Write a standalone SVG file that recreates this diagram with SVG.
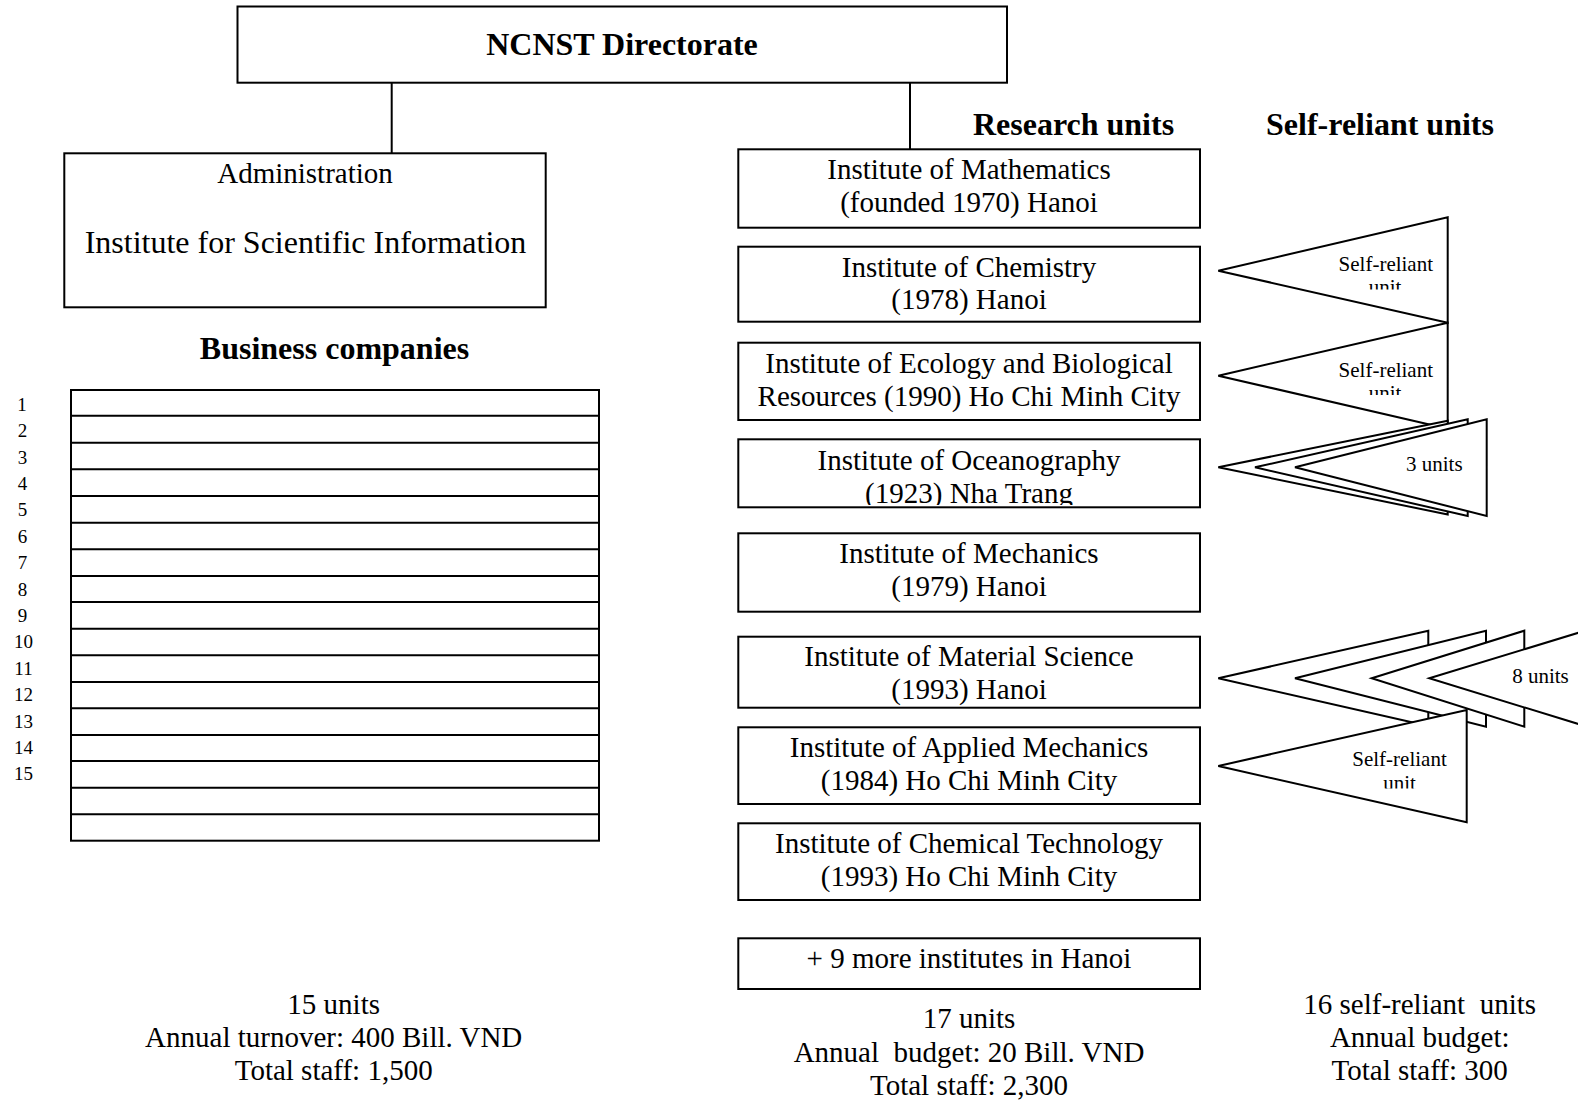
<svg xmlns="http://www.w3.org/2000/svg" width="1578" height="1104" viewBox="0 0 1578 1104">
<defs>
<style>
.box{fill:#fff;stroke:#000;stroke-width:2}
.tri{fill:#fff;stroke:#000;stroke-width:2;stroke-linejoin:miter}
.ln{stroke:#000;stroke-width:2;fill:none}
.t{font-family:"Liberation Serif","Times New Roman",serif;font-size:29px;fill:#000;text-anchor:middle;white-space:pre}
.h{font-family:"Liberation Serif","Times New Roman",serif;font-size:32px;font-weight:bold;fill:#000;text-anchor:middle}
.s{font-family:"Liberation Serif","Times New Roman",serif;font-size:21px;fill:#000;text-anchor:middle}
.n{font-family:"Liberation Serif","Times New Roman",serif;font-size:19px;fill:#000;text-anchor:middle}
</style>
<clipPath id="cOcean"><rect x="738" y="439" width="462" height="66"/></clipPath>
<clipPath id="cU1"><rect x="1200" y="200" width="300" height="89.5"/></clipPath>
<clipPath id="cU2"><rect x="1200" y="300" width="300" height="95"/></clipPath>
<clipPath id="cU3"><rect x="1200" y="700" width="300" height="88.5"/></clipPath>
</defs>
<rect width="1578" height="1104" fill="#fff"/>

<g id="connectors">
<line class="ln" x1="391.7" y1="82.7" x2="391.7" y2="153.3"/>
<line class="ln" x1="910" y1="82.7" x2="910" y2="149.3"/>
</g>

<g id="directorate">
<rect class="box" x="237.5" y="6.5" width="769.5" height="76.2"/>
<text class="h" x="622" y="55">NCNST Directorate</text>
</g>

<g id="administration">
<rect class="box" x="64.3" y="153.3" width="481.4" height="154"/>
<text class="t" x="305" y="182.7">Administration</text>
<text class="t" x="305.5" y="253.3" style="font-size:32px">Institute for Scientific Information</text>
</g>

<g id="headers">
<text class="h" x="334.5" y="358.5">Business companies</text>
<text class="h" x="1073.5" y="134.5">Research units</text>
<text class="h" x="1380" y="134.5">Self-reliant units</text>
</g>

<g id="business-companies">
<rect class="box" x="71" y="390" width="528" height="450.7"/>
<line class="ln" x1="71" y1="415.7" x2="599" y2="415.7"/>
<line class="ln" x1="71" y1="442.7" x2="599" y2="442.7"/>
<line class="ln" x1="71" y1="469.3" x2="599" y2="469.3"/>
<line class="ln" x1="71" y1="496" x2="599" y2="496"/>
<line class="ln" x1="71" y1="522.7" x2="599" y2="522.7"/>
<line class="ln" x1="71" y1="549.3" x2="599" y2="549.3"/>
<line class="ln" x1="71" y1="576" x2="599" y2="576"/>
<line class="ln" x1="71" y1="602" x2="599" y2="602"/>
<line class="ln" x1="71" y1="628.7" x2="599" y2="628.7"/>
<line class="ln" x1="71" y1="655.3" x2="599" y2="655.3"/>
<line class="ln" x1="71" y1="682" x2="599" y2="682"/>
<line class="ln" x1="71" y1="708.3" x2="599" y2="708.3"/>
<line class="ln" x1="71" y1="735" x2="599" y2="735"/>
<line class="ln" x1="71" y1="761" x2="599" y2="761"/>
<line class="ln" x1="71" y1="787.7" x2="599" y2="787.7"/>
<line class="ln" x1="71" y1="814.3" x2="599" y2="814.3"/>
<text class="n" x="22" y="410.7">1</text>
<text class="n" x="22.5" y="437.1">2</text>
<text class="n" x="22.5" y="463.5">3</text>
<text class="n" x="22.5" y="489.9">4</text>
<text class="n" x="22.5" y="516.3">5</text>
<text class="n" x="22.5" y="542.7">6</text>
<text class="n" x="22.5" y="569.1">7</text>
<text class="n" x="22.5" y="595.5">8</text>
<text class="n" x="22.5" y="621.9">9</text>
<text class="n" x="23.5" y="648.3">10</text>
<text class="n" x="23.5" y="674.7">11</text>
<text class="n" x="23.5" y="701.1">12</text>
<text class="n" x="23.5" y="727.5">13</text>
<text class="n" x="23.5" y="753.9">14</text>
<text class="n" x="23.5" y="780.3">15</text>
</g>

<g id="business-summary">
<text class="t" x="333.7" y="1014">15 units</text>
<text class="t" x="333.7" y="1046.7">Annual turnover: 400 Bill. VND</text>
<text class="t" x="333.7" y="1080">Total staff: 1,500</text>
</g>

<g id="inst-mathematics">
<rect class="box" x="738.3" y="149.3" width="461.7" height="78.4"/>
<text class="t" x="969" y="179">Institute of Mathematics</text>
<text class="t" x="969" y="211.7">(founded 1970) Hanoi</text>
</g>
<g id="inst-chemistry">
<rect class="box" x="738.3" y="246.7" width="461.7" height="75"/>
<text class="t" x="969" y="276.7">Institute of Chemistry</text>
<text class="t" x="969" y="309">(1978) Hanoi</text>
</g>
<g id="inst-ecology">
<rect class="box" x="738.3" y="342.7" width="461.7" height="77.3"/>
<text class="t" x="969" y="372.7">Institute of Ecology and Biological</text>
<text class="t" x="969" y="405.5">Resources (1990) Ho Chi Minh City</text>
</g>
<g id="inst-oceanography">
<rect class="box" x="738.3" y="439.3" width="461.7" height="68"/>
<g clip-path="url(#cOcean)">
<text class="t" x="969" y="469.5">Institute of Oceanography</text>
<text class="t" x="969" y="503">(1923) Nha Trang</text>
</g>
</g>
<g id="inst-mechanics">
<rect class="box" x="738.3" y="533.3" width="461.7" height="78.4"/>
<text class="t" x="969" y="562.7">Institute of Mechanics</text>
<text class="t" x="969" y="596">(1979) Hanoi</text>
</g>
<g id="inst-material">
<rect class="box" x="738.3" y="636.7" width="461.7" height="71"/>
<text class="t" x="969" y="665.5">Institute of Material Science</text>
<text class="t" x="969" y="699">(1993) Hanoi</text>
</g>
<g id="inst-applied-mechanics">
<rect class="box" x="738.3" y="727.3" width="461.7" height="76.7"/>
<text class="t" x="969" y="756.5">Institute of Applied Mechanics</text>
<text class="t" x="969" y="789.5">(1984) Ho Chi Minh City</text>
</g>
<g id="inst-chemical-technology">
<rect class="box" x="738.3" y="823.3" width="461.7" height="76.7"/>
<text class="t" x="969" y="853">Institute of Chemical Technology</text>
<text class="t" x="969" y="885.5">(1993) Ho Chi Minh City</text>
</g>
<g id="inst-more">
<rect class="box" x="738.3" y="938.3" width="461.7" height="50.7"/>
<text class="t" x="969" y="967.7">+ 9 more institutes in Hanoi</text>
</g>

<g id="research-summary">
<text class="t" x="969" y="1027.7">17 units</text>
<text class="t" x="969" y="1061.7">Annual  budget: 20 Bill. VND</text>
<text class="t" x="969" y="1095">Total staff: 2,300</text>
</g>

<g id="self-reliant-1">
<polygon class="tri" points="1218.3,270.7 1447.7,217.3 1447.7,322.7"/>
<text class="s" x="1385.8" y="270.7">Self-reliant</text>
<text class="s" x="1385" y="294" clip-path="url(#cU1)">unit</text>
</g>
<g id="self-reliant-2">
<polygon class="tri" points="1218.3,375.7 1447.7,322.7 1447.7,428.7"/>
<text class="s" x="1385.8" y="376.7">Self-reliant</text>
<text class="s" x="1385" y="400" clip-path="url(#cU2)">unit</text>
</g>
<g id="self-reliant-3-units">
<polygon class="tri" points="1218.3,467.3 1447.7,420.7 1447.7,514.5"/>
<polygon class="tri" points="1255,467.3 1467.7,419.3 1467.7,516"/>
<polygon class="tri" points="1295,467.3 1486.7,419.3 1486.7,516"/>
<text class="s" x="1434.3" y="471">3 units</text>
</g>
<g id="self-reliant-8-units">
<polygon class="tri" points="1218.3,678.3 1428.3,630.7 1428.3,726"/>
<polygon class="tri" points="1295,678.3 1486,630.7 1486,726.7"/>
<polygon class="tri" points="1371.7,678.3 1524.3,630.7 1524.3,726.7"/>
<polygon class="tri" points="1429.3,678.3 1585,630.7 1585,726"/>
<text class="s" x="1540.5" y="682.7">8 units</text>
</g>
<g id="self-reliant-4">
<polygon class="tri" points="1218.3,766 1466.7,710 1466.7,822.3"/>
<text class="s" x="1399.5" y="765.7">Self-reliant</text>
<text class="s" x="1399.5" y="789.5" clip-path="url(#cU3)">unit</text>
</g>

<g id="self-reliant-summary">
<text class="t" x="1419.7" y="1014">16 self-reliant  units</text>
<text class="t" x="1419.7" y="1046.7">Annual budget:</text>
<text class="t" x="1419.7" y="1080">Total staff: 300</text>
</g>
</svg>
